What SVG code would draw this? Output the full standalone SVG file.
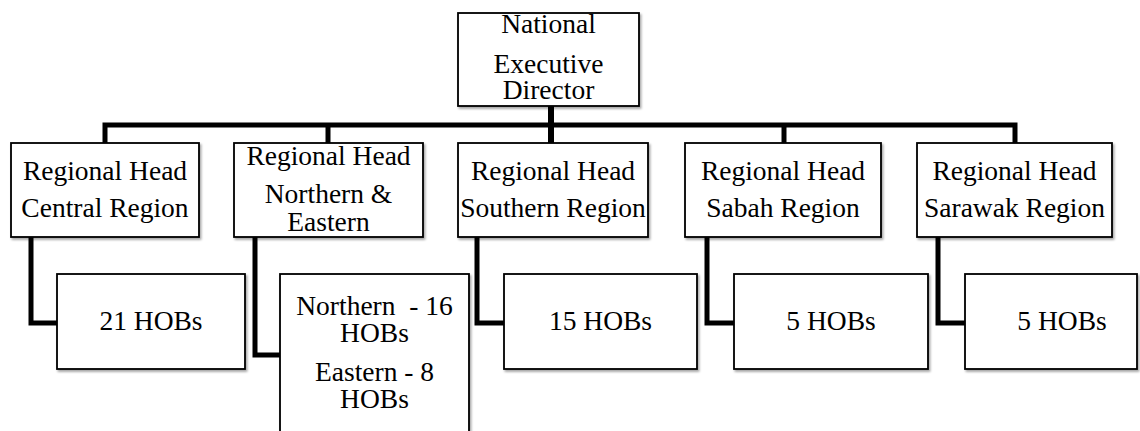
<svg xmlns="http://www.w3.org/2000/svg" width="1140" height="431" viewBox="0 0 1140 431" font-family="'Liberation Serif', 'Times New Roman', 'DejaVu Serif', serif">
  <defs>
    <filter id="shadow" x="-5%" y="-5%" width="115%" height="120%">
      <feDropShadow dx="1.5" dy="2" stdDeviation="1.2" flood-color="#000" flood-opacity="0.35"/>
    </filter>
    <style>
      .box { fill: #fff; stroke: #000; stroke-width: 1.8; filter: url(#shadow); }
      .label { font-family: 'Liberation Serif', 'Times New Roman', 'DejaVu Serif', serif; font-size: 27.5px; fill: #000; text-anchor: middle; }
      .link { fill: none; stroke: #000; stroke-width: 5; stroke-linejoin: miter; stroke-linecap: butt; }
    </style>
  </defs>
  <rect width="1140" height="431" fill="#fff"/>

  <!-- connectors -->
  <g id="connectors">
    <path class="link" d="M551 106 V143" style="stroke-width:6"/>
    <path class="link" d="M105 143 V125 H1015 V143"/>
    <path class="link" d="M328 125 V143"/>
    <path class="link" d="M784 125 V143"/>
    <path class="link" d="M31 237 V323 H57"/>
    <path class="link" d="M255 237 V355 H280"/>
    <path class="link" d="M477 237 V323 H504"/>
    <path class="link" d="M707 237 V323 H734"/>
    <path class="link" d="M938 237 V323 H965"/>
  </g>

  <!-- top level -->
  <g id="national-executive-director">
    <rect class="box" x="458" y="13" width="181" height="93"/>
    <text class="label" x="548.5" y="33.3">National</text>
    <text class="label" x="548.5" y="73.3">Executive</text>
    <text class="label" x="548.5" y="99.3">Director</text>
  </g>

  <!-- regional heads -->
  <g id="head-central">
    <rect class="box" x="11" y="143" width="188" height="94"/>
    <text class="label" x="105" y="180">Regional Head</text>
    <text class="label" x="105" y="216.5">Central Region</text>
  </g>
  <g id="head-northern-eastern">
    <rect class="box" x="234" y="143" width="189" height="94"/>
    <text class="label" x="328.5" y="165">Regional Head</text>
    <text class="label" x="328.5" y="203">Northern &amp;</text>
    <text class="label" x="328.5" y="230.5">Eastern</text>
  </g>
  <g id="head-southern">
    <rect class="box" x="458" y="143" width="190" height="94"/>
    <text class="label" x="553" y="180">Regional Head</text>
    <text class="label" x="553" y="216.5">Southern Region</text>
  </g>
  <g id="head-sabah">
    <rect class="box" x="685" y="143" width="196" height="94"/>
    <text class="label" x="783" y="180">Regional Head</text>
    <text class="label" x="783" y="216.5">Sabah Region</text>
  </g>
  <g id="head-sarawak">
    <rect class="box" x="917" y="143" width="195" height="94"/>
    <text class="label" x="1014.5" y="180">Regional Head</text>
    <text class="label" x="1014.5" y="216.5">Sarawak Region</text>
  </g>

  <!-- heads of branches -->
  <g id="hobs-central">
    <rect class="box" x="57" y="274" width="188" height="95"/>
    <text class="label" x="151" y="329.5">21 HOBs</text>
  </g>
  <g id="hobs-northern-eastern">
    <rect class="box" x="280" y="274" width="189" height="170"/>
    <text class="label" x="374.5" y="315" xml:space="preserve">Northern  - 16</text>
    <text class="label" x="374.5" y="342.3">HOBs</text>
    <text class="label" x="374.5" y="381">Eastern - 8</text>
    <text class="label" x="374.5" y="408.3">HOBs</text>
  </g>
  <g id="hobs-southern">
    <rect class="box" x="504" y="274" width="193" height="95"/>
    <text class="label" x="600.5" y="329.5">15 HOBs</text>
  </g>
  <g id="hobs-sabah">
    <rect class="box" x="734" y="274" width="194" height="95"/>
    <text class="label" x="831" y="329.5">5 HOBs</text>
  </g>
  <g id="hobs-sarawak">
    <rect class="box" x="965" y="274" width="172" height="95"/>
    <text class="label" x="1062" y="329.5">5 HOBs</text>
  </g>
</svg>
